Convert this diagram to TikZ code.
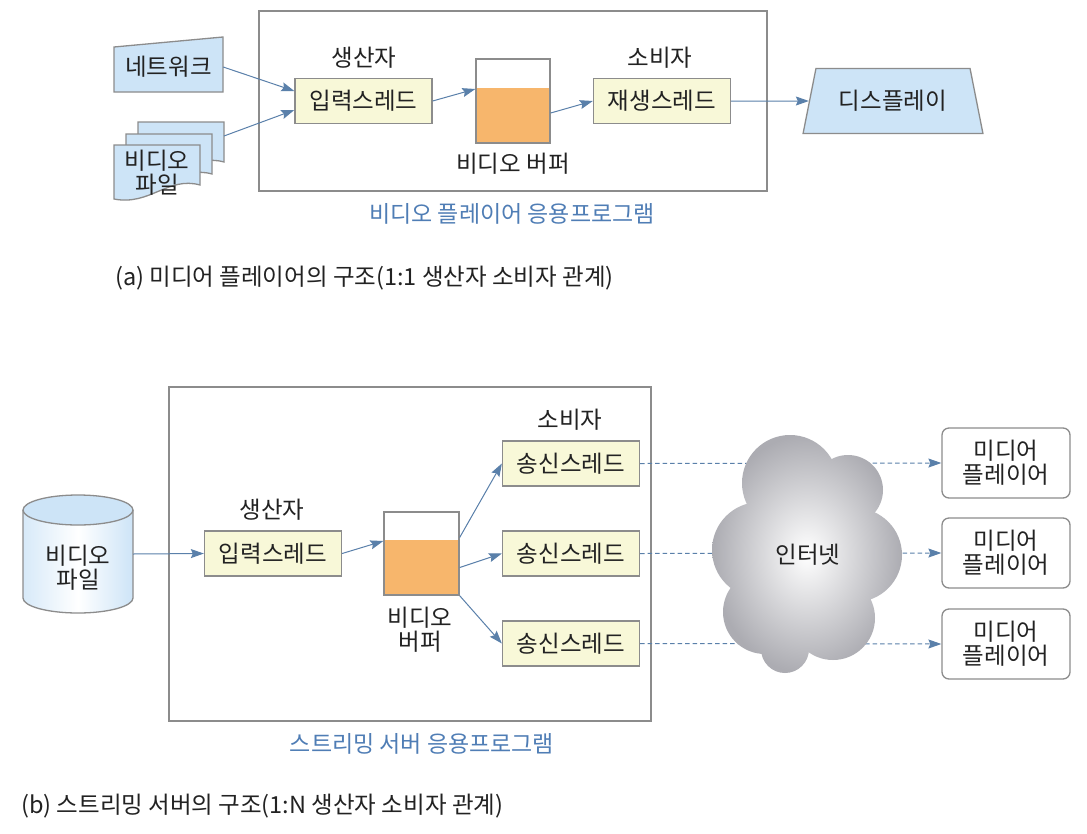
\documentclass[tikz,border=0pt]{standalone}
\usepackage{fontspec}
\setmainfont{Noto Sans CJK KR}
\usetikzlibrary{arrows.meta,shapes.geometric}
\definecolor{bordergray}{HTML}{8C8C8C}
\definecolor{arrowblue}{HTML}{5A80AA}
\definecolor{lblue}{HTML}{CDE4F7}
\definecolor{tyellow}{HTML}{F8F8D8}
\definecolor{borange}{HTML}{F7B66C}
\definecolor{labelblue}{HTML}{4F7DB5}
\definecolor{txt}{HTML}{222222}
\definecolor{cloudout}{HTML}{ACACB2}
\tikzset{
  fs/.style={font=\fontsize{23.5}{27}\selectfont, text=txt},
  thread/.style={fs, draw=bordergray, fill=tyellow, line width=1.3pt, minimum width=137pt, minimum height=45pt, inner sep=0pt},
  arr/.style={draw=arrowblue, line width=1pt, -{Stealth[length=13pt,width=9pt,inset=2pt]}},
  darr/.style={arr, dash pattern=on 4.5pt off 3pt},
  gbox/.style={draw=bordergray, line width=1.3pt},
  bluelabel/.style={font=\fontsize{23}{27}\selectfont, text=labelblue},
  caption/.style={font=\fontsize{23.5}{27}\selectfont, text=txt, anchor=west, inner sep=0pt},
  player/.style={fs, draw=bordergray, line width=1.3pt, rounded corners=7pt, minimum width=128pt, minimum height=70pt, align=center, inner sep=0pt, fill=white},
  buf/.style={draw=bordergray, line width=1.3pt, inner sep=0pt},
  docsh/.style={draw=bordergray, fill=lblue, line width=1.3pt},
}
\begin{document}
\begin{tikzpicture}[x=1pt,y=-1pt]
\useasboundingbox (0,0) rectangle (1087,833);
\fill[white] (0,0) rectangle (1087,833);

% ---------- (a) ----------
\draw[gbox] (259,11) rectangle (767,191);
\node[bluelabel] (lblA) at (512,214) {비디오 플레이어 응용프로그램};

% network card
\draw[docsh] (114,47) -- (223,37) -- (223,92) -- (114,92) -- cycle;
\node[fs, minimum width=109pt, inner sep=0pt] (net) at (168.5,67) {네트워크};

% video file documents
\foreach \dx/\dy in {24/-23, 12/-11, 0/0}{
  \begin{scope}[shift={(\dx,\dy)}]
    \draw[docsh] (114,145) -- (200,145) -- (200,185)
      .. controls (168,176) and (150,206) .. (114,199) -- cycle;
  \end{scope}
}
\node[fs, align=center, inner sep=0pt] (fileA) at (157,173) {비디오\\[-3pt]파일};
\coordinate (fileOut) at (224,136);

\node[fs] (prodA) at (364,58) {생산자};
\node[thread] (inA) at (363.5,101) {입력스레드};

\node[buf, minimum width=74pt, minimum height=84pt] (bufA) at (513,101) {};
\fill[borange] (476,88) rectangle (550,143);
\draw[gbox] (476,59) rectangle (550,143);
\node[fs] (bufAlbl) at (513,164) {비디오 버퍼};

\node[fs] (consA) at (660,58) {소비자};
\node[thread] (playA) at (662,101) {재생스레드};

\node[fs, trapezium, trapezium stretches=true, trapezium angle=67, draw=bordergray, fill=lblue, line width=1.3pt, minimum width=180pt, minimum height=65pt, inner sep=0pt] (disp) at (893,101) {디스플레이};

\draw[arr] (net.east) -- ([yshift=10pt]inA.west);
\draw[arr] (fileOut) -- ([yshift=-9pt]inA.west);
\draw[arr] (inA.east) -- ([yshift=12pt]bufA.west);
\draw[arr] ([yshift=-12pt]bufA.east) -- (playA.west);
\draw[arr] (playA.east) -- (disp);

\node[caption] (capA) at (115,278) {(a) 미디어 플레이어의 구조(1:1 생산자 소비자 관계)};

% ---------- (b) ----------
\draw[gbox] (169,387) rectangle (651,721);
\node[bluelabel] (lblB) at (422,744) {스트리밍 서버 응용프로그램};

% cylinder
\shade[left color=lblue!80!white, right color=lblue, middle color=white]
  (23,510) -- (23,598) arc[start angle=180,end angle=360,x radius=55pt,y radius=15pt] -- (133,510) -- cycle;
\draw[gbox] (23,510) -- (23,598) arc[start angle=180,end angle=360,x radius=55pt,y radius=15pt] -- (133,510);
\draw[gbox, fill=lblue] (78,510) ellipse[x radius=55pt, y radius=15pt];
\node[fs, align=center, inner sep=0pt] (cyl) at (78,568) {비디오\\[-3pt]파일};
\coordinate (cylOut) at (133,554);

\node[fs] (prodB) at (272,510) {생산자};
\node[thread] (inB) at (273,553.5) {입력스레드};

\node[buf, minimum width=75pt, minimum height=83pt] (bufB) at (421.5,553.5) {};
\fill[borange] (384,540) rectangle (459,595);
\draw[gbox] (384,512) rectangle (459,595);
\node[fs, align=center, inner sep=0pt] (bufBlbl) at (420,630) {비디오\\[-3pt]버퍼};

\node[fs] (consB) at (570,420) {소비자};
\node[thread] (s1) at (571,463.5) {송신스레드};
\node[thread] (s2) at (571,553.5) {송신스레드};
\node[thread] (s3) at (571,643.5) {송신스레드};

\node[player] (p1) at (1006,463) {미디어\\[-3pt]플레이어};
\node[player] (p2) at (1006,553) {미디어\\[-3pt]플레이어};
\node[player] (p3) at (1006,644) {미디어\\[-3pt]플레이어};

\draw[arr] (cylOut) -- (inB.west);
\draw[arr] (inB.east) -- ([yshift=12.5pt]bufB.west);
\draw[arr] ([yshift=16pt]bufB.east) -- (s1.west);
\draw[arr] ([yshift=-14pt]bufB.east) -- (s2.west);
\draw[arr] (bufB.south east) -- (s3.west);

\draw[darr] (s1.east) -- (p1.west);
\draw[darr] (s2.east) -- (p2.west);
\draw[darr] (s3.east) -- (p3.west);

% cloud
\shade[inner color=white, outer color=cloudout]
  (790,483) circle[radius=48pt]
  (848,490) circle[radius=35pt]
  (760,550) circle[radius=48pt]
  (855,555) circle[radius=47pt]
  (765,612) circle[radius=42pt]
  (785,649) circle[radius=24pt]
  (833,618) circle[radius=42pt]
  (808,555) circle[radius=62pt];
\node[fs] (net2) at (808,555) {인터넷};

\node[caption] (capB) at (21,806) {(b) 스트리밍 서버의 구조(1:N 생산자 소비자 관계)};
\end{tikzpicture}
\end{document}
